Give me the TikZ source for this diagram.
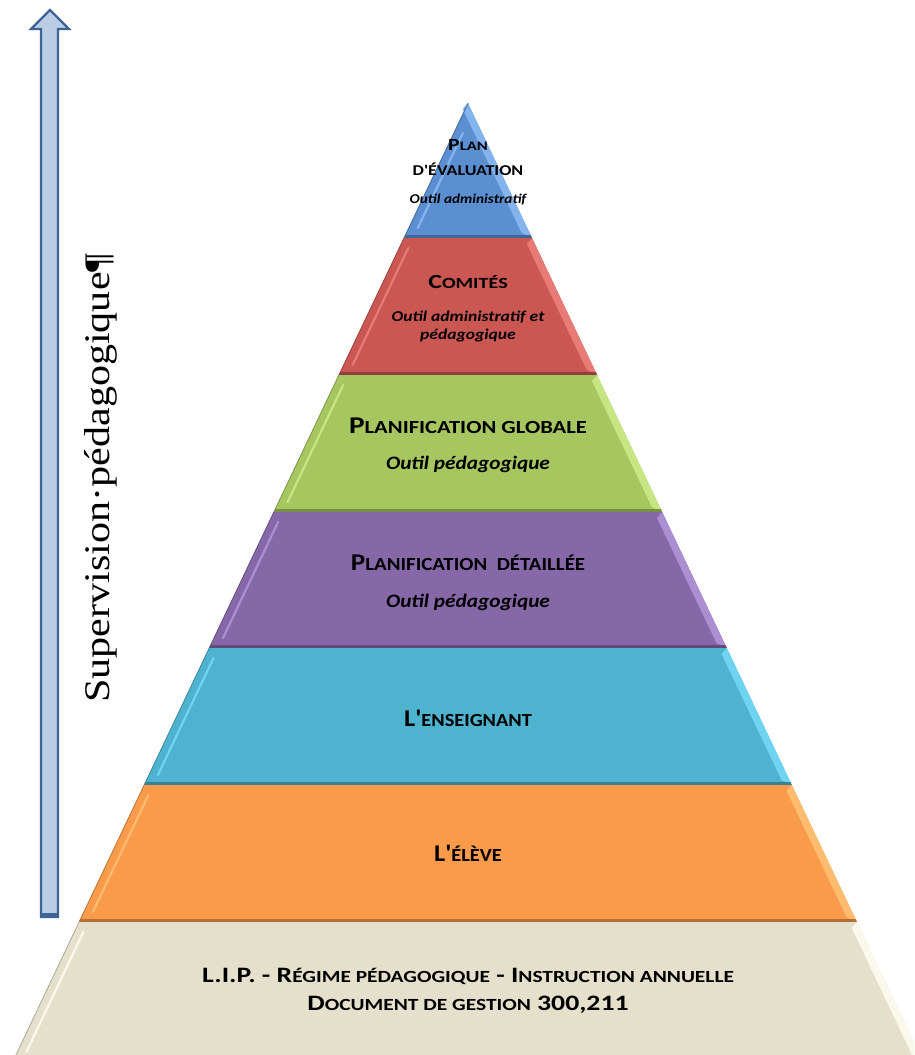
\documentclass[tikz,border=0pt]{standalone}
\usepackage{fontspec}
\setmainfont{Carlito}
\newfontfamily\serifA{Liberation Serif}
\definecolor{cBlue}{HTML}{5B8FD1}
\definecolor{cBlueL}{HTML}{84B4EE}
\definecolor{cRed}{HTML}{CB5753}
\definecolor{cRedL}{HTML}{E87B76}
\definecolor{cGreen}{HTML}{A6C65F}
\definecolor{cGreenL}{HTML}{C6E583}
\definecolor{cPurple}{HTML}{8668A8}
\definecolor{cPurpleL}{HTML}{AC8FD3}
\definecolor{cCyan}{HTML}{4DB3CF}
\definecolor{cCyanL}{HTML}{6FD3F2}
\definecolor{cOrange}{HTML}{F99B4B}
\definecolor{cOrangeL}{HTML}{FFBC6E}
\definecolor{cBeige}{HTML}{E5E0CB}
\definecolor{cBeigeL}{HTML}{FBF8EC}
\definecolor{arrFill}{HTML}{B9CDE5}
\definecolor{arrEdge}{HTML}{3E6496}
\newcommand\Fs[2]{{\fontsize{#1}{#1}\selectfont #2}}
\newcommand\Sx[2]{\scalebox{#1}[1]{#2}}
\newcommand\layer[5]{%
 \pgfmathsetmacro\ta{64+(#3-238)*0.475}%
 \pgfmathsetmacro\tb{64+(#4-238)*0.475}%
 \pgfmathsetmacro\tc{64+(#3+6-238)*0.475}%
 \pgfmathsetmacro\td{64+(#4-5-238)*0.475}%
 \pgfmathsetmacro\te{64+(#3+#5-238)*0.475}%
 \pgfmathsetmacro\tf{64+(#4-10-238)*0.475}%
 \fill[#1] (468-\ta,#3) -- (468+\ta,#3) -- (468+\tb,#4) -- (468-\tb,#4) -- cycle;
 \fill[#2] (468+\ta,#3) -- (468+\tb,#4) -- (468+\td-8,#4-5) -- (468+\tc-8,#3+6) -- cycle;
 \fill[#1!72!black] (468-\tb+1.4,#4-3) -- (468+\tb-1.4,#4-3) -- (468+\tb,#4) -- (468-\tb,#4) -- cycle;
 \draw[#2, line width=2.2, line cap=round] (468-\te+9,#3+#5) -- (468-\tf+9,#4-10);
 \draw[#1!75!black, line width=0.8] (468-\ta,#3) -- (468-\tb,#4);
}
\tikzset{
 captxt/.style={anchor=base, inner sep=0pt, font=\bfseries},
 itltxt/.style={anchor=base, inner sep=0pt, font=\bfseries\itshape},
 arrowshape/.style={fill=arrFill, draw=arrEdge, line width=2.2pt, line join=miter},
 suplbl/.style={rotate=90, inner sep=0pt, font=\serifA\fontsize{36}{36}\selectfont}
}
\begin{document}
\begin{tikzpicture}[x=1pt,y=-1pt]
\useasboundingbox (0,0) rectangle (914,1055);
\clip (0,0) rectangle (914,1055);
% arrow
\draw[arrowshape] (41,917) -- (41,29) -- (31,29) -- (50,10) -- (69,29) -- (58,29) -- (58,917) -- cycle;
\fill[arrEdge] (40,913) rectangle (59,918);
\node[suplbl] (sup) at (101,478) {\Sx{1.17}{Supervision·pédagogique¶}};
% pyramid layers
\layer{cBlue}{cBlueL}{103}{238}{30}
\layer{cRed}{cRedL}{238}{375}{10}
\layer{cGreen}{cGreenL}{375}{512}{10}
\layer{cPurple}{cPurpleL}{512}{648}{10}
\layer{cCyan}{cCyanL}{648}{785}{10}
\layer{cOrange}{cOrangeL}{785}{922}{10}
\layer{cBeige}{cBeigeL}{922}{1062}{10}
% texts
\node[captxt] (planA) at (468,150) {\Sx{1.28}{\Fs{17}{P}\Fs{13}{LAN}}};
\node[captxt] (planB) at (468,175) {\Sx{1.2}{\Fs{15}{D\textquotesingle ÉVALUATION}}};
\node[itltxt] (planC) at (468,203) {\Sx{1.13}{\Fs{13.5}{Outil administratif}}};
\node[captxt] (com) at (468,288) {\Sx{1.3}{\Fs{20}{C}\Fs{15.5}{OMITÉS}}};
\node[itltxt] (comB) at (468,321) {\Sx{1.17}{\Fs{15}{Outil administratif et}}};
\node[itltxt] (comC) at (468,339) {\Sx{1.17}{\Fs{15}{pédagogique}}};
\node[captxt] (glob) at (468,433) {\Sx{1.22}{\Fs{24}{P}\Fs{18.5}{LANIFICATION GLOBALE}}};
\node[itltxt] (globB) at (468,469) {\Sx{1.12}{\Fs{19}{Outil pédagogique}}};
\node[captxt] (det) at (468,570) {\Sx{1.13}{\Fs{24}{P}\Fs{18.5}{LANIFICATION\ \ DÉTAILLÉE}}};
\node[itltxt] (detB) at (468,607) {\Sx{1.12}{\Fs{19}{Outil pédagogique}}};
\node[captxt] (ens) at (468,726) {\Sx{1.1}{\Fs{24}{L\textquotesingle}\Fs{18.5}{ENSEIGNANT}}};
\node[captxt] (elv) at (468,861) {\Sx{1.1}{\Fs{24}{L\textquotesingle}\Fs{18.5}{ÉLÈVE}}};
\node[captxt] (lipA) at (468,982) {\Sx{1.26}{\Fs{22}{L.I.P. - R}\Fs{17}{ÉGIME PÉDAGOGIQUE}\Fs{22}{ - I}\Fs{17}{NSTRUCTION ANNUELLE}}};
\node[captxt] (lipB) at (468,1010) {\Sx{1.26}{\Fs{22}{D}\Fs{17}{OCUMENT DE GESTION}\Fs{22}{ 300,211}}};
\end{tikzpicture}
\end{document}
